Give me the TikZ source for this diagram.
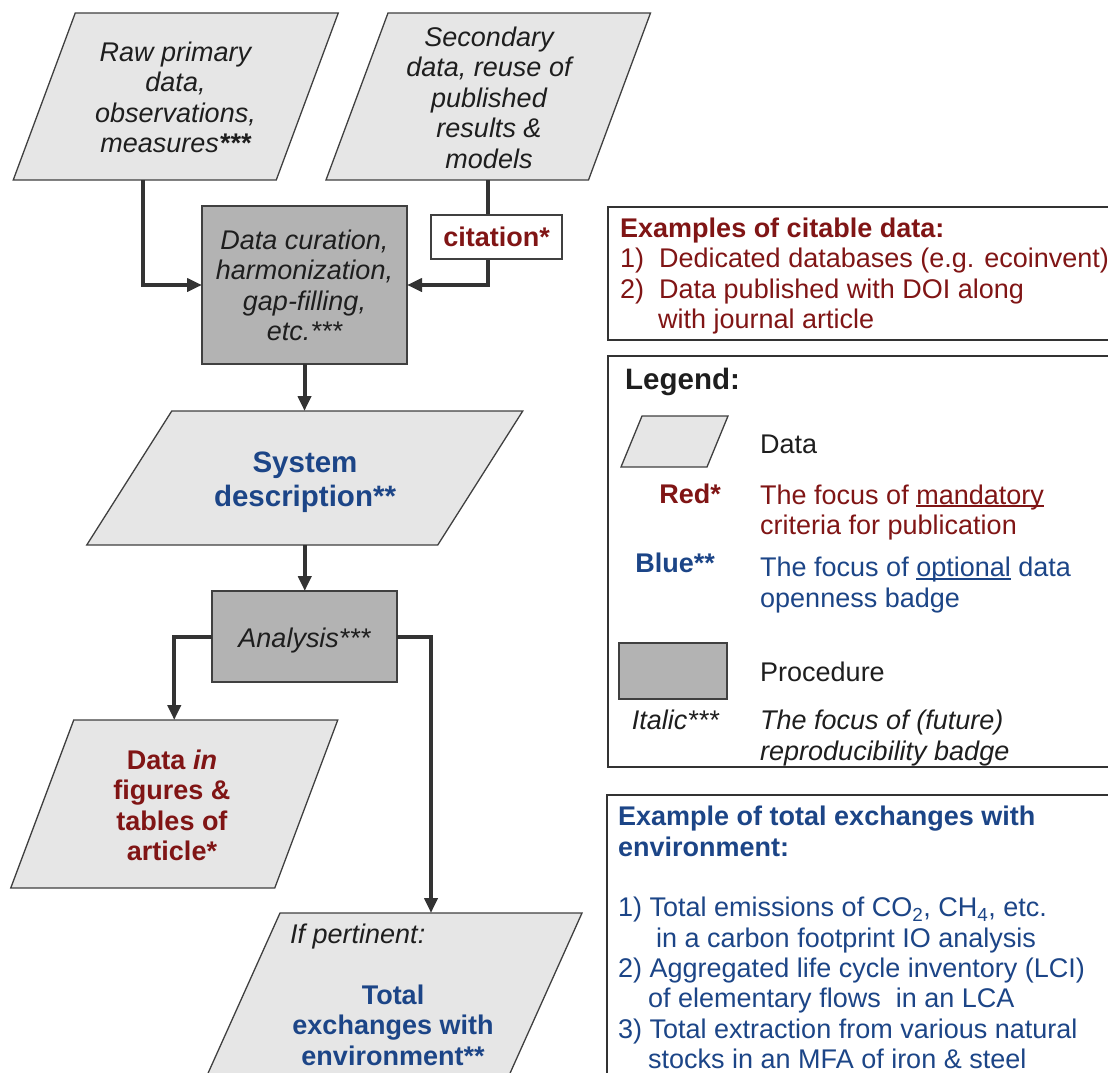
\documentclass[tikz,border=0pt]{standalone}
\usepackage{fontspec}
\setmainfont{Liberation Sans}
\usetikzlibrary{arrows.meta,calc}
\definecolor{dred}{RGB}{128,21,21}
\definecolor{dblue}{RGB}{28,69,135}
\definecolor{txt}{RGB}{30,30,30}
\definecolor{datafill}{RGB}{230,230,230}
\definecolor{procfill}{RGB}{179,179,179}
\definecolor{edge}{RGB}{64,64,64}
\definecolor{arrowc}{RGB}{51,51,51}
\newcommand\fsn{\fontsize{27pt}{30.5pt}\selectfont}
\newcommand\fsl{\fontsize{29.5pt}{34pt}\selectfont}
\newcommand\myul[1]{\setbox0\hbox{#1}\rlap{\rule[-3pt]{\wd0}{1.8pt}}\box0\relax}
\newcommand\paral[2]{\filldraw[datashape] ([xshift=#2pt]#1.north west) -- ([xshift=#2pt]#1.north east) -- ([xshift=-#2pt]#1.south east) -- ([xshift=-#2pt]#1.south west) -- cycle;}
\begin{document}
\begin{tikzpicture}[x=1pt,y=-1pt,
  shapebox/.style={inner sep=0pt,outer sep=0pt,shape=rectangle},
  datashape/.style={fill=datafill,draw=edge,line width=1.3pt,line join=miter},
  procbox/.style={shapebox,fill=procfill,draw=edge,line width=1.3pt},
  ftext/.style={inner sep=0pt,align=center,font=\fsn,text=txt,execute at begin node=\strut,execute at end node=\strut},
  ltext/.style={inner sep=0pt,anchor=base west,font=\fsn,text=txt},
  rtext/.style={inner sep=0pt,anchor=base east,font=\fsn,text=txt},
  flowarrow/.style={draw=arrowc,line width=4pt,line join=miter,-{Triangle[length=15pt,width=13pt]}},
  infobox/.style={shapebox,draw=arrowc,line width=1.5pt,anchor=north west}]
\useasboundingbox (0,0) rectangle (1108,1073);
\clip (0,0) rectangle (1108,1073);

% raw primary data
\node[shapebox,minimum width=263pt,minimum height=167pt] (raw) at (175.75,96.5) {};
\paral{raw}{31}
\node[ftext,font=\fsn\itshape] (rawt) at (175.5,101.65) {Raw primary\\data,\\observations,\\measures\textbf{***}};

% secondary data
\node[shapebox,minimum width=262.5pt,minimum height=167pt] (sec) at (488.25,96.5) {};
\paral{sec}{31}
\node[ftext,font=\fsn\itshape] (sect) at (489,101.9) {Secondary\\data, reuse of\\published\\results \&\\models};

% curation
\node[procbox,minimum width=205pt,minimum height=158pt] (cur) at (304.5,285) {};
\node[ftext,font=\fsn\itshape] (curt) at (304.5,289.65) {Data curation,\\harmonization,\\gap-filling,\\etc.***};

% system description
\node[shapebox,minimum width=351pt,minimum height=134pt] (sys) at (304.75,478) {};
\paral{sys}{42.5}
\node[ftext,font=\fsl\bfseries,text=dblue] (syst) at (305,483.9) {System\\description**};

% analysis
\node[procbox,minimum width=185pt,minimum height=91pt] (ana) at (304.5,636.5) {};
\node[ftext,font=\fsn\itshape] (anat) at (304.5,641.4) {Analysis***};

% data in figures
\node[shapebox,minimum width=264pt,minimum height=168pt] (dat) at (174.25,804) {};
\paral{dat}{31.5}
\node[ftext,font=\fsn\bfseries,text=dred] (datt) at (172,809.95) {Data \textit{in}\\figures \&\\tables of\\article*};

% total exchanges
\node[shapebox,minimum width=302pt,minimum height=187pt] (tot) at (389,1006.5) {};
\paral{tot}{42}
\node[ltext,font=\fsn\itshape] (ifp) at (290,943.2) {If pertinent:};
\node[ftext,font=\fsn\bfseries,text=dblue] (tott) at (393,1029.7) {Total\\exchanges with\\environment**};

% connectors
\draw[flowarrow] ([xshift=-33pt]raw.south) |- (cur.west);
\draw[flowarrow] (sec.south) |- (cur.east);
\node[shapebox,fill=white,draw=edge,line width=1.3pt,minimum width=131pt,minimum height=44pt,font=\fsn\bfseries,text=dred] (cit) at (496.5,237) {citation*};
\draw[flowarrow] (cur.south) -- (cur.south |- sys.north);
\draw[flowarrow] (sys.south) -- (sys.south |- ana.north);
\draw[flowarrow] (ana.west) -| (dat.north);
\draw[flowarrow] (ana.east) -| ([xshift=42pt]tot.north);

% examples box
\node[infobox,minimum width=520pt,minimum height=133pt] (exbox) at (608,207) {};
\node[ltext,font=\fsn\bfseries,text=dred] (ex0) at (620,237) {Examples of citable data:};
\node[ltext,text=dred] (ex1) at (620,267.5) {\makebox[39pt][l]{1)}Dedicated databases (e.g. ecoinvent)};
\node[ltext,text=dred] (ex2) at (620,298) {\makebox[39pt][l]{2)}Data published with DOI along};
\node[ltext,text=dred] (ex3) at (658,328.5) {with journal article};

% legend box
\node[infobox,minimum width=520pt,minimum height=411pt] (legbox) at (608,356) {};
\node[ltext,font=\fsl\bfseries] (leg0) at (625,389.5) {Legend:};
\node[shapebox,minimum width=86pt,minimum height=51pt] (legdata) at (674.5,441.5) {};
\paral{legdata}{10.5}
\node[ltext] (legdatat) at (760,453) {Data};
\node[rtext,font=\fsn\bfseries,text=dred] (legred) at (721,503.7) {Red*};
\node[ltext,text=dred] (legred1) at (760,504) {The focus of \myul{mandatory}};
\node[ltext,text=dred] (legred2) at (760,534.4) {criteria for publication};
\node[rtext,font=\fsn\bfseries,text=dblue] (legblue) at (715,572) {Blue**};
\node[ltext,text=dblue] (legblue1) at (760,576.7) {The focus of \myul{optional} data};
\node[ltext,text=dblue] (legblue2) at (760,607) {openness badge};
\node[procbox,minimum width=108pt,minimum height=56pt] (legproc) at (673,671) {};
\node[ltext] (legproct) at (760,681.5) {Procedure};
\node[rtext,font=\fsn\itshape] (legit) at (719,729.6) {Italic***};
\node[ltext,font=\fsn\itshape] (legit1) at (760,729.6) {The focus of (future)};
\node[ltext,font=\fsn\itshape] (legit2) at (760,760) {reproducibility badge};

% total exchanges box
\node[infobox,minimum width=520pt,minimum height=300pt] (totbox) at (607,795) {};
\node[ltext,font=\fsn\bfseries,text=dblue] (tb0) at (618,825) {Example of total exchanges with};
\node[ltext,font=\fsn\bfseries,text=dblue] (tb1) at (618,856) {environment:};
\node[ltext,text=dblue] (tb2) at (618,916.7) {1) Total emissions of CO\textsubscript{2}, CH\textsubscript{4}, etc.};
\node[ltext,text=dblue] (tb3) at (656,947.1) {in a carbon footprint IO analysis};
\node[ltext,text=dblue] (tb4) at (618,977.5) {2) Aggregated life cycle inventory (LCI)};
\node[ltext,text=dblue] (tb5) at (648,1007.9) {of elementary flows~ in an LCA};
\node[ltext,text=dblue] (tb6) at (618,1038.3) {3) Total extraction from various natural};
\node[ltext,text=dblue] (tb7) at (648,1068.7) {stocks in an MFA of iron \& steel};
\end{tikzpicture}
\end{document}
